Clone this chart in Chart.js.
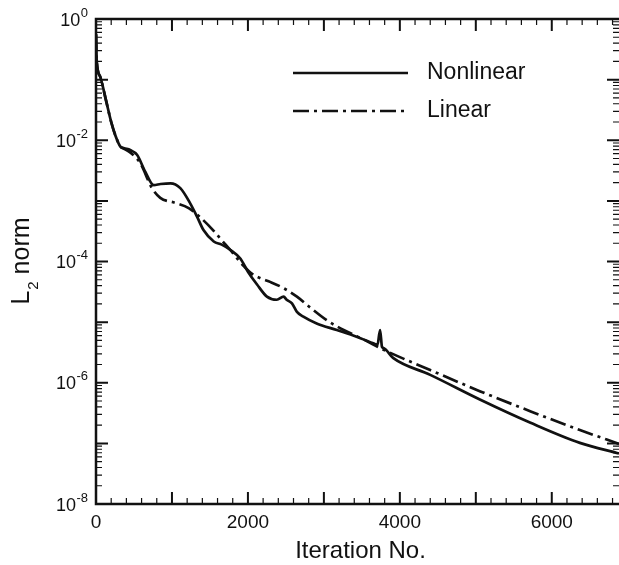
<!DOCTYPE html>
<html>
<head>
<meta charset="utf-8">
<script src="https://cdn.jsdelivr.net/npm/chart.js@4.4.0/dist/chart.umd.min.js"></script>
<style>
  html, body { margin: 0; padding: 0; background: #fff; }
</style>
</head>
<body>
<canvas id="chart" width="619" height="565"></canvas>
<script>
// values (iteration, L2 norm)
const nonlinearIter = [0, 10, 55, 135, 200, 255, 320, 370, 450, 540, 650, 760, 850, 980, 1110, 1240, 1330, 1415, 1550, 1655,
  1770, 1900, 2000, 2120, 2250, 2380, 2470, 2510, 2580, 2645, 2730, 2905, 3170, 3430, 3650, 3705, 3740, 3765, 3790, 3910,
  4400, 5060, 5720, 6370, 6885];
const nonlinearL2 = [0.56, 0.2, 0.112, 0.0437, 0.02, 0.012, 7.9e-3, 7.4e-3, 6.9e-3, 5.75e-3, 3.0e-3, 1.82e-3, 1.9e-3, 1.95e-3, 1.62e-3, 9.1e-4, 5.5e-4, 3.3e-4, 2.14e-4, 1.9e-4,
  1.55e-4, 1.12e-4, 6.8e-5, 4.17e-5, 2.63e-5, 2.34e-5, 2.63e-5, 2.34e-5, 2.04e-5, 1.48e-5, 1.23e-5, 9.5e-6, 7.4e-6, 5.75e-6, 4.47e-6, 4.2e-6, 7.4e-6, 3.9e-6, 3.7e-6, 2.57e-6,
  1.35e-6, 5.25e-7, 2.19e-7, 1.02e-7, 6.8e-8];

const linearIter = [0, 10, 55, 135, 200, 255, 320, 370, 450, 583, 737, 846, 1040, 1220, 1390, 1540, 1670, 1767, 1860, 1950,
  2050, 2150, 2300, 2470, 2645, 2820, 3040, 3260, 3480, 3650, 3830, 4400, 5060, 5715, 6370, 6885];
const linearL2 = [0.56, 0.2, 0.112, 0.0437, 0.02, 0.012, 7.9e-3, 7.2e-3, 6.3e-3, 4.17e-3, 1.62e-3, 1.12e-3, 9.3e-4, 7.6e-4, 5.1e-4, 3.3e-4, 2.14e-4, 1.55e-4, 1.12e-4, 8.3e-5,
  6.3e-5, 5.4e-5, 4.57e-5, 3.63e-5, 2.63e-5, 1.74e-5, 1.07e-5, 7.4e-6, 5.5e-6, 4.27e-6, 3.3e-6, 1.62e-6, 7.2e-7, 3.4e-7, 1.66e-7, 9.8e-8];

const xTickValues = [0, 2000, 4000, 6000];
const yTickExponents = [0, -2, -4, -6, -8];

const ink = '#111';
const FONT = '"Liberation Sans", Arial, sans-serif';

const toPoints = (xs, ys) => xs.map((v, i) => ({ x: v, y: ys[i] }));

// inward ticks, frame, y labels with superscripts, titles, legend
const framePlugin = {
  id: 'frame',
  afterDraw(chart) {
    const { ctx, chartArea: a, scales: { x, y } } = chart;
    ctx.save();
    ctx.strokeStyle = ink;
    ctx.fillStyle = ink;

    // x ticks (bottom + top)
    for (let v = 200; v <= x.max; v += 200) {
      const px = x.getPixelForValue(v);
      const major = v % 1000 === 0;
      const len = major ? 12 : 6;
      ctx.lineWidth = major ? 2 : 1.2;
      ctx.beginPath();
      ctx.moveTo(px, a.bottom); ctx.lineTo(px, a.bottom - len);
      ctx.moveTo(px, a.top); ctx.lineTo(px, a.top + len);
      ctx.stroke();
    }
    // y ticks (left + right)
    for (let e = 0; e >= -8; e--) {
      const py = y.getPixelForValue(Math.pow(10, e));
      ctx.lineWidth = 2;
      ctx.beginPath();
      ctx.moveTo(a.left, py); ctx.lineTo(a.left + 12, py);
      ctx.moveTo(a.right, py); ctx.lineTo(a.right - 12, py);
      ctx.stroke();
      if (e > -8) {
        ctx.lineWidth = 1.2;
        ctx.beginPath();
        for (let k = 2; k <= 9; k++) {
          const pm = y.getPixelForValue(k * Math.pow(10, e - 1));
          ctx.moveTo(a.left, pm); ctx.lineTo(a.left + 6, pm);
          ctx.moveTo(a.right, pm); ctx.lineTo(a.right - 6, pm);
        }
        ctx.stroke();
      }
    }
    // frame
    ctx.lineWidth = 2.5;
    ctx.beginPath();
    ctx.moveTo(a.right + 2, a.top);
    ctx.lineTo(a.left, a.top);
    ctx.lineTo(a.left, a.bottom);
    ctx.lineTo(a.right + 2, a.bottom);
    ctx.stroke();

    // y tick labels: 10^e
    ctx.textAlign = 'right';
    ctx.textBaseline = 'alphabetic';
    const right = a.left - 8;
    yTickExponents.forEach(e => {
      const py = y.getPixelForValue(Math.pow(10, e));
      const sup = String(e);
      ctx.font = '13px ' + FONT;
      const supW = ctx.measureText(sup).width;
      ctx.fillText(sup, right, py - 2.5);
      ctx.font = '18px ' + FONT;
      ctx.fillText('10', right - supW - 0.5, py + 6.5);
    });

    // x title
    ctx.textAlign = 'center';
    ctx.font = '24px ' + FONT;
    ctx.fillText('Iteration No.', (a.left + a.right) / 2 + 3, 558);

    // y title, rotated: L with subscript 2, then " norm"
    ctx.save();
    ctx.translate(29, (a.top + a.bottom) / 2);
    ctx.rotate(-Math.PI / 2);
    ctx.textAlign = 'left';
    ctx.font = '25px ' + FONT;
    const wL = ctx.measureText('L').width;
    const wN = ctx.measureText(' norm').width;
    ctx.font = '15px ' + FONT;
    const w2 = ctx.measureText('2').width;
    let sx = -(wL + w2 + wN) / 2;
    ctx.font = '25px ' + FONT;
    ctx.fillText('L', sx, 0);
    ctx.font = '15px ' + FONT;
    ctx.fillText('2', sx + wL + 1, 9);
    ctx.font = '25px ' + FONT;
    ctx.fillText(' norm', sx + wL + w2 + 1, 0);
    ctx.restore();

    // legend
    const legendY = [73, 111];
    chart.data.datasets.forEach((ds, i) => {
      const ly = legendY[i];
      ctx.lineWidth = ds.borderWidth;
      ctx.setLineDash(ds.borderDash || []);
      ctx.beginPath();
      ctx.moveTo(293, ly); ctx.lineTo(408, ly);
      ctx.stroke();
      ctx.setLineDash([]);
      ctx.textAlign = 'left';
      ctx.textBaseline = 'middle';
      ctx.font = '23px ' + FONT;
      ctx.fillText(ds.label, 427, ly);
    });
    ctx.restore();
  }
};

new Chart(document.getElementById('chart'), {
  type: 'line',
  data: {
    datasets: [
      {
        label: 'Nonlinear',
        data: toPoints(nonlinearIter, nonlinearL2),
        borderColor: ink,
        borderWidth: 2.7,
        pointRadius: 0,
        cubicInterpolationMode: 'monotone',
        fill: false
      },
      {
        label: 'Linear',
        data: toPoints(linearIter, linearL2),
        borderColor: ink,
        borderWidth: 2.7,
        borderDash: [16, 5, 3, 5],
        pointRadius: 0,
        cubicInterpolationMode: 'monotone',
        fill: false
      }
    ]
  },
  options: {
    responsive: false,
    animation: false,
    layout: { padding: { top: 19, left: 0, right: 0, bottom: 0 } },
    plugins: { legend: { display: false }, tooltip: { enabled: false } },
    scales: {
      x: {
        type: 'linear',
        min: 0,
        max: 6885,
        afterBuildTicks: s => { s.ticks = xTickValues.map(v => ({ value: v })); },
        afterFit: s => { s.height = 61; },
        grid: { display: false, drawTicks: false },
        border: { display: false },
        ticks: {
          color: ink, padding: 7, maxRotation: 0,
          font: { family: FONT, size: 19 },
          callback: v => String(v)
        }
      },
      y: {
        type: 'logarithmic',
        min: 1e-8,
        max: 1,
        afterBuildTicks: s => { s.ticks = yTickExponents.map(e => ({ value: Math.pow(10, e) })); },
        afterFit: s => { s.width = 96; },
        grid: { display: false, drawTicks: false },
        border: { display: false },
        ticks: { display: false }
      }
    }
  },
  plugins: [framePlugin]
});
</script>
</body>
</html>
